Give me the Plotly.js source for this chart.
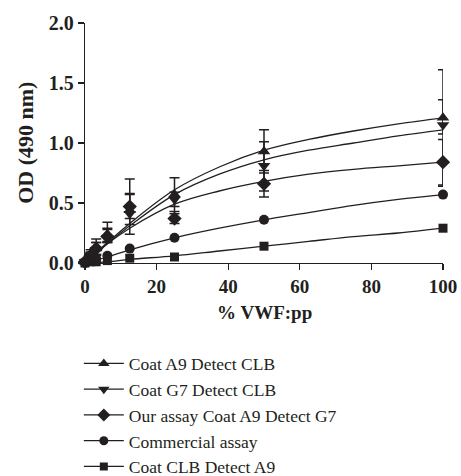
<!DOCTYPE html>
<html>
<head>
<meta charset="utf-8">
<script src="https://cdn.plot.ly/plotly-3.0.1.min.js"></script>
<style>html,body{margin:0;padding:0;background:#fff;}#chart{width:461px;height:476px;}</style>
</head>
<body>
<div id="chart"></div>
<script>
// Data points (x = % VWF:pp)
var doseX = [0, 1.5625, 3.125, 6.25, 12.5, 25, 50, 100];
var seriesNames = ["Coat A9 Detect CLB", "Coat G7 Detect CLB", "Our assay Coat A9 Detect G7", "Commercial assay", "Coat CLB Detect A9"];
var symbols = ["triangle-up", "triangle-down", "diamond", "circle", "square"];
var xTitle = "% VWF:pp";
var yTitle = "OD (490 nm)";

var a9Clb     = [0.01, 0.07, 0.12, 0.24, 0.44, 0.57, 0.93, 1.21];
var g7Clb     = [0.01, 0.06, 0.11, 0.21, 0.41, 0.53, 0.81, 1.15];
var ourAssay  = [0.01, 0.06, 0.12, 0.22, 0.47, 0.37, 0.66, 0.84];
var commerc   = [0.00, 0.02, 0.03, 0.06, 0.12, 0.21, 0.36, 0.57];
var clbA9     = [0.00, 0.01, 0.01, 0.02, 0.04, 0.05, 0.14, 0.29];

// error bars (upper / lower)
var a9ClbErrP    = [0.00, 0.04, 0.08, 0.10, 0.14, 0.14, 0.18, 0.40];
var a9ClbErrM    = [0.00, 0.04, 0.06, 0.06, 0.12, 0.14, 0.18, 0.56];
var g7ClbErrP    = [0.00, 0.03, 0.06, 0.08, 0.16, 0.06, 0.20, 0.21];
var g7ClbErrM    = [0.00, 0.03, 0.04, 0.04, 0.04, 0.06, 0.21, 0.075];
var ourAssayErrP = [0.00, 0.03, 0.05, 0.06, 0.23, 0.04, 0.11, 0.19];
var ourAssayErrM = [0.00, 0.03, 0.05, 0.05, 0.23, 0.04, 0.11, 0.20];

// fitted curves
var fitX        = [0, 6.25, 12.5, 25, 37.5, 50, 62.5, 75, 87.5, 100];
var a9ClbFit    = [0, 0.17, 0.33, 0.61, 0.80, 0.94, 1.03, 1.10, 1.16, 1.21];
var g7ClbFit    = [0, 0.16, 0.31, 0.57, 0.74, 0.86, 0.94, 1.00, 1.06, 1.11];
var ourFit      = [0, 0.16, 0.29, 0.49, 0.60, 0.68, 0.74, 0.78, 0.81, 0.84];
var commercFit  = [0, 0.05, 0.11, 0.21, 0.29, 0.36, 0.42, 0.48, 0.53, 0.57];
var clbA9Fit    = [0, 0.01, 0.03, 0.06, 0.10, 0.14, 0.18, 0.22, 0.25, 0.29];

var xTicks = [0, 20, 40, 60, 80, 100];
var yTicks = [0.0, 0.5, 1.0, 1.5, 2.0];

var ink = "#231f20";
var dataSets = [a9Clb, g7Clb, ourAssay, commerc, clbA9];
var fitSets = [a9ClbFit, g7ClbFit, ourFit, commercFit, clbA9Fit];
var errP = [a9ClbErrP, g7ClbErrP, ourAssayErrP, null, null];
var errM = [a9ClbErrM, g7ClbErrM, ourAssayErrM, null, null];
var sizes = [11, 11, 11, 10, 9];

var traces = [];
for (var i = 0; i < fitSets.length; i++) {
  traces.push({x: fitX, y: fitSets[i], mode: "lines", type: "scatter", showlegend: false,
    line: {color: ink, width: 1.3, shape: "spline", smoothing: 1}, hoverinfo: "skip", cliponaxis: false});
}
for (var j = dataSets.length - 1; j >= 0; j--) {
  var t = {x: doseX, y: dataSets[j], mode: "markers", type: "scatter", showlegend: false, cliponaxis: false,
    marker: {symbol: symbols[j], size: sizes[j], color: ink, line: {width: 0}}};
  if (errP[j]) {
    t.error_y = {type: "data", symmetric: false, array: errP[j], arrayminus: errM[j],
      color: ink, thickness: 1.5, width: 5};
  }
  traces.push(t);
}
for (var k = 0; k < seriesNames.length; k++) {
  traces.push({x: [null], y: [null], mode: "lines+markers", type: "scatter", name: seriesNames[k],
    line: {color: ink, width: 1.3}, marker: {symbol: symbols[k], size: sizes[k] - 1, color: ink}});
}

var fontFam = "'Liberation Serif', 'Times New Roman', serif";
var layout = {
  width: 461, height: 476,
  margin: {l: 85, r: 18, t: 23, b: 213, autoexpand: false},
  paper_bgcolor: "#fff", plot_bgcolor: "#fff",
  font: {family: fontFam, color: ink},
  showlegend: true,
  legend: {xref: "container", yref: "container", x: 0.171, y: 0.274, xanchor: "left", yanchor: "top",
    orientation: "v", font: {family: fontFam, size: 17.5, color: ink}, itemwidth: 40, tracegroupgap: 0,
    bgcolor: "rgba(0,0,0,0)"},
  xaxis: {range: [0, 100], tickvals: xTicks, ticktext: xTicks.map(String), automargin: false,
    showline: true, linecolor: ink, linewidth: 1.3, ticks: "outside", ticklen: 6, tickwidth: 1.3, tickcolor: ink,
    showgrid: false, zeroline: false,
    tickfont: {family: fontFam, size: 19, color: ink, weight: "bold"}},
  yaxis: {range: [0, 2], tickvals: yTicks, ticktext: yTicks.map(function(v){return v.toFixed(1);}), automargin: false,
    showline: true, linecolor: ink, linewidth: 1.3, ticks: "outside", ticklen: 6, tickwidth: 1.3, tickcolor: ink,
    showgrid: false, zeroline: false,
    tickfont: {family: fontFam, size: 20, color: ink, weight: "bold"}},
  annotations: [
    {text: "<b>" + xTitle + "</b>", xref: "paper", yref: "paper", x: 0.5, y: -0.208,
     xanchor: "center", yanchor: "middle", showarrow: false, font: {family: fontFam, size: 19, color: ink}},
    {text: "<b>" + yTitle + "</b>", xref: "paper", yref: "paper", x: -0.168, y: 0.5, textangle: -90,
     xanchor: "center", yanchor: "middle", showarrow: false, font: {family: fontFam, size: 22, color: ink}}
  ]
};
Plotly.newPlot("chart", traces, layout, {displayModeBar: false, staticPlot: true});
</script>
</body>
</html>
